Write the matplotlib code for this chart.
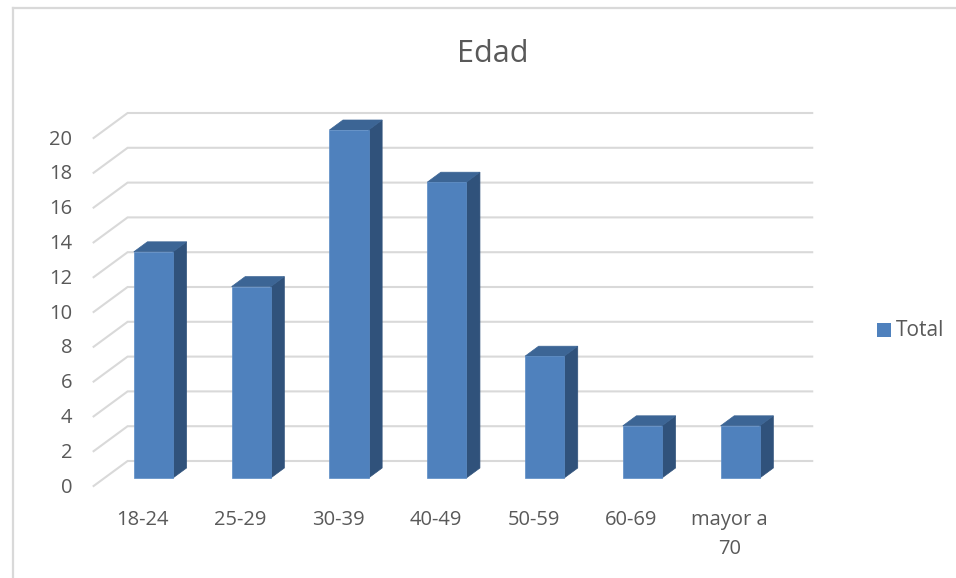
import matplotlib.pyplot as plt
from matplotlib.patches import Polygon, Rectangle
from matplotlib.lines import Line2D

# Data
categories = ["18-24", "25-29", "30-39", "40-49", "50-59", "60-69", "mayor a\n70"]
totals = [13, 11, 20, 17, 7, 3, 3]
y_ticks = list(range(0, 22, 2))

plt.rcParams['font.family'] = ['Open Sans', 'DejaVu Sans']
text_color = "#595959"
grid_color = "#d9d9d9"
front_c, top_c, side_c = "#4F81BD", "#3C6595", "#30527B"

# fake 3D: depth offset in data units (category units on x, value units on y)
DX = 34 / 97.8
DY = 25 / 17.4
d0, d1 = 0.32, 0.72   # bar front / back depth fraction
half_w = 0.2

def proj(x, y, d):
    return (x + d * DX, y + d * DY)

W, H = 956, 578
fig = plt.figure(figsize=(W / 100, H / 100), dpi=100)
ax = fig.add_axes([93.6 / W, (H - 486) / H, 718.6 / W, 373 / H])
ax.set_xlim(-0.5, len(categories) - 0.5 + DX)
ax.set_ylim(0, 20 + DY)
ax.axis("off")

# walls gridlines
x_left = -0.5
x_right = len(categories) - 0.5
for v in y_ticks:
    p0 = proj(x_left, v, 0)
    p1 = proj(x_left, v, 1)
    p2 = proj(x_right, v, 1)
    ax.plot([p0[0], p1[0], p2[0]], [p0[1], p1[1], p2[1]], color=grid_color,
            lw=1.5, zorder=1, clip_on=False, solid_joinstyle="miter")
    ax.annotate(str(v), xy=(x_left, v), xytext=(-15.5, -1.2), textcoords="offset points",
                ha="right", va="center", fontsize=14.5, color=text_color)

# bars
for i, v in enumerate(totals):
    xl, xr = i - half_w, i + half_w
    front = [proj(xl, 0, d0), proj(xr, 0, d0), proj(xr, v, d0), proj(xl, v, d0)]
    top = [proj(xl, v, d0), proj(xr, v, d0), proj(xr, v, d1), proj(xl, v, d1)]
    side = [proj(xr, 0, d0), proj(xr, v, d0), proj(xr, v, d1), proj(xr, 0, d1)]
    ax.add_patch(Polygon(side, closed=True, fc=side_c, ec=side_c, lw=0.5, zorder=3))
    ax.add_patch(Polygon(top, closed=True, fc=top_c, ec=top_c, lw=0.5, zorder=3))
    ax.add_patch(Polygon(front, closed=True, fc=front_c, ec="#5b8cc6", lw=0.5, zorder=4))
    ax.annotate(categories[i], xy=(i, 0), xytext=(0, -17), textcoords="offset points",
                ha="center", va="top", fontsize=14.5, color=text_color,
                linespacing=1.6)

# title
fig.text(493 / W, 1 - 54 / H, "Edad", ha="center", va="center", fontsize=22,
         color=text_color)

# legend
fig.patches.append(Rectangle((877 / W, 1 - 337 / H), 14 / W, 14 / H,
                             transform=fig.transFigure, fc=front_c, ec="none"))
fig.text(896 / W, 1 - 330 / H, "Total", ha="left", va="center", fontsize=15,
         color=text_color)

# chart area border (top and left only visible)
fig.lines.append(Line2D([13 / W, 1], [1 - 8 / H, 1 - 8 / H], transform=fig.transFigure,
                        color=grid_color, lw=1.6))
fig.lines.append(Line2D([13 / W, 13 / W], [0, 1 - 8 / H], transform=fig.transFigure,
                        color=grid_color, lw=1.6))

fig.savefig("out.png", dpi=100)
